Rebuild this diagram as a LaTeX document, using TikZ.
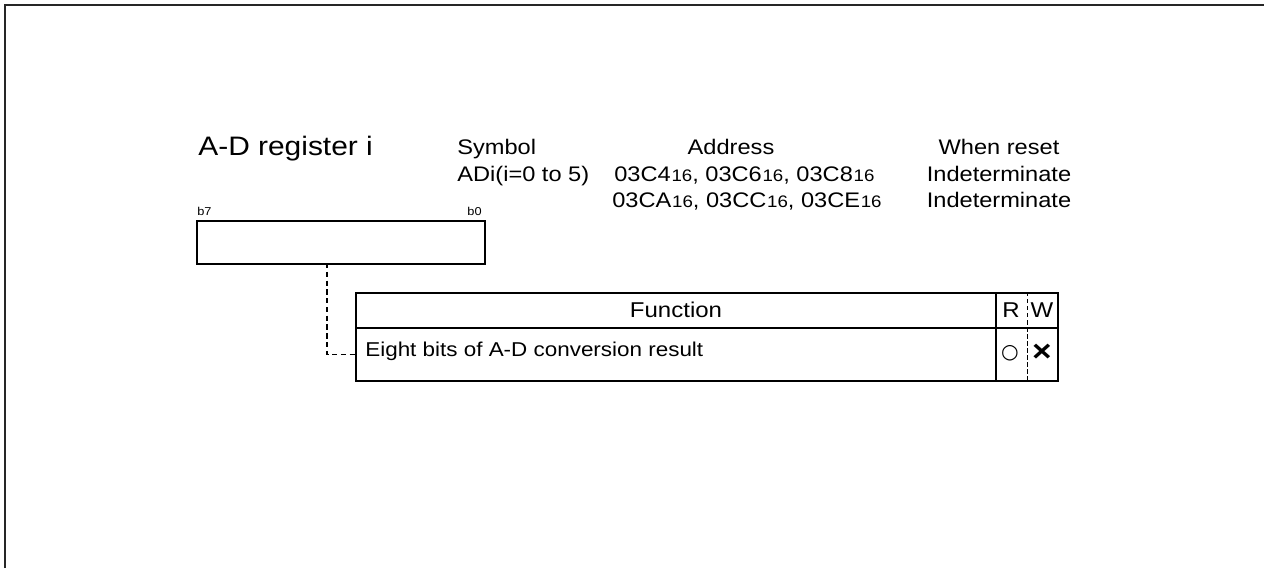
\documentclass[tikz,border=0pt]{standalone}
\usepackage{fontspec}
\setmainfont{Liberation Sans}[FakeStretch=1.12]
\newfontfamily\symfont{DejaVu Sans}
\usetikzlibrary{positioning}
\newcommand{\hexnum}[1]{#1\kern0.4pt{\fontsize{9.5}{10}\selectfont 16}}
\newcommand{\hdsize}{\fontsize{12}{14}\selectfont}

\begin{document}
\begin{tikzpicture}[x=0.02cm, y=-0.02cm,
  txt/.style={inner sep=0pt, font=\hdsize},
  bitlbl/.style={inner sep=0pt, font=\fontsize{6.5}{8}\selectfont},
  cell/.style={draw, line width=1.2pt, inner sep=0pt, anchor=north west},
  conn/.style={dash pattern=on 3pt off 2pt, line width=0.6pt}]
  \useasboundingbox (0,0) rectangle (1264,568);
  % outer frame, only top and left edges show
  \draw[black!85, line width=1.3pt] (5,568) -- (5,5) -- (1264,5);
  % register name and header
  \node[inner sep=0pt, anchor=base west, font=\fontsize{15.2}{18}\selectfont] (regname) at (198,155) {A-D register i};
  \node[txt, anchor=base west] (symhead) at (457,154) {Symbol};
  \node[txt, anchor=base west] (symval) at (457,181) {ADi(i=0 to 5)};
  \node[txt, anchor=base] (addrhead) at (731,154) {Address};
  \node[txt, anchor=base west] (addra) at (614,181) {\hexnum{03C4}, \hexnum{03C6}, \hexnum{03C8}};
  \node[txt, anchor=base west] (addrb) at (612,207) {\hexnum{03CA}, \hexnum{03CC}, \hexnum{03CE}};
  \node[txt, anchor=base] (rsthead) at (999,154) {When reset};
  \node[txt, anchor=base] (rsta) at (999,181) {Indeterminate};
  \node[txt, anchor=base] (rstb) at (999,207) {Indeterminate};
  % bit field
  \node[draw, line width=1pt, inner sep=0pt, anchor=north west,
        minimum width=5.76cm, minimum height=0.86cm] (adreg) at (196,220) {};
  \node[bitlbl, anchor=base west] (bseven) at (197,215) {b7};
  \node[bitlbl, anchor=base east] (bzero) at (482,215) {b0};
  % function table
  \node[cell, minimum width=12.8cm, minimum height=0.7cm] (funchead) at (355,292) {};
  \node[cell, minimum width=1.24cm, minimum height=0.7cm] (rwhead) at (995,292) {};
  \node[cell, minimum width=12.8cm, minimum height=1.06cm] (resrow) at (355,327) {};
  \node[cell, minimum width=1.24cm, minimum height=1.06cm] (rwrow) at (995,327) {};
  \draw[line width=0.4pt, dash pattern=on 2.5pt off 1.5pt] (rwhead.north) -- (rwrow.south);
  \node[inner sep=0pt, anchor=base, font=\fontsize{12.2}{14}\selectfont] (functxt) at (676,317) {Function};
  \node[inner sep=0pt, anchor=base, font=\fontsize{12.2}{14}\selectfont] (rtxt) at (1011,317) {R};
  \node[inner sep=0pt, anchor=base, font=\fontsize{12.2}{14}\selectfont] (wtxt) at (1042,317) {W};
  \node[inner sep=0pt, anchor=base west, font=\fontsize{11.4}{13}\selectfont] (restxt) at (365,356) {Eight bits of A-D conversion result};
  \node[inner sep=0pt, font=\symfont\fontsize{11.5}{12}\selectfont] (rmark) at (1010,353) {○};
  \node[inner sep=0pt, font=\bfseries\fontsize{17}{18}\selectfont] (wmark) at (1042,353) {×};
  % bits to function row
  \coordinate (tap) at (327,263);
  \draw[conn] (tap) |- (resrow.west);
\end{tikzpicture}
\end{document}
